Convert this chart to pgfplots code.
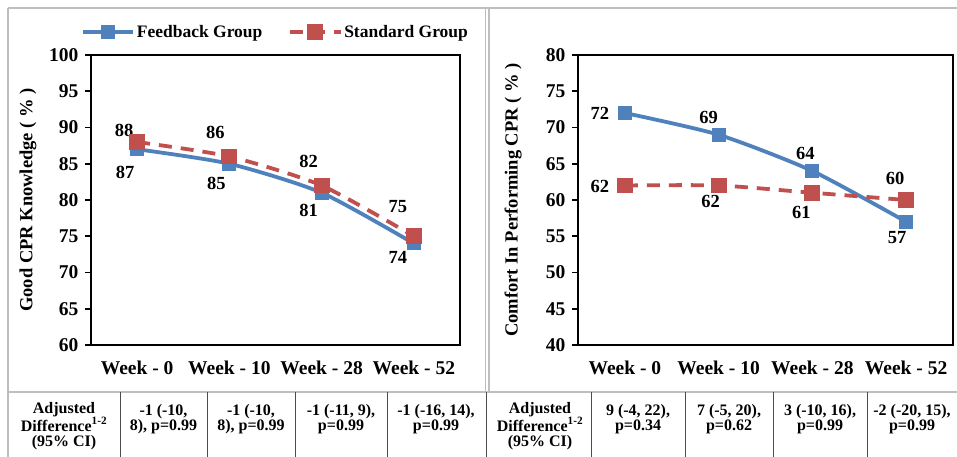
\documentclass[border=0pt]{standalone}
\usepackage{fontspec}
\setmainfont{Liberation Serif}
\usepackage{pgfplots}
\pgfplotsset{compat=1.18}
\definecolor{fbblue}{RGB}{79,129,189}
\definecolor{stred}{RGB}{192,80,77}
\definecolor{bordergray}{RGB}{190,190,190}
\newcommand{\tfont}{\fontsize{16}{15.5}\selectfont\bfseries}
\newcommand{\lfont}{\fontsize{18.5}{19}\selectfont\bfseries}
\pgfplotsset{
  cprstyle/.style={
    scale only axis,
    height=290pt,
    xmin=-0.5, xmax=3.5,
    xtick={0,1,2,3},
    xticklabels={Week - 0, Week - 10, Week - 28, Week - 52},
    /pgf/number format/assume math mode=true,
    axis line style={line width=1.6pt, black},
    tick align=outside,
    ytick pos=left,
    major tick length=6pt,
    every tick/.style={line width=1.6pt, black},
    x tick style={draw=none},
    yticklabel style={font=\fontsize{19.5}{20}\selectfont\bfseries, xshift=-3pt},
    xticklabel style={font=\fontsize{19.5}{20}\selectfont\bfseries, yshift=-6pt},
    ylabel style={font=\fontsize{18.5}{19}\selectfont\bfseries, anchor=center},
    legend image code/.code={\draw[mark repeat=2,mark phase=2,#1] plot coordinates {(0pt,0pt) (25pt,0pt) (50pt,0pt)};},
  },
  fbline/.style={color=fbblue, line width=3.8pt, smooth, tension=0.4, mark=square*, mark size=5pt, mark options={solid, fill=fbblue}},
  stline/.style={color=stred, line width=3.8pt, dash pattern=on 13pt off 9pt, smooth, tension=0.4, mark=square*, mark size=6pt, mark options={solid, fill=stred}},
}
\begin{document}
\begin{tikzpicture}
\path[use as bounding box] (0,0) rectangle (957pt,457pt);
% panel borders
\draw[bordergray, line width=1.5pt] (8pt,449pt) -- (957pt,449pt);
\draw[bordergray, line width=1.5pt] (8pt,0pt) -- (8pt,449pt);
\draw[bordergray, line width=1pt] (485pt,65pt) -- (485pt,449pt);
\draw[bordergray, line width=2pt] (489pt,65pt) -- (489pt,449pt);
\draw[bordergray, line width=1.5pt] (8pt,65pt) -- (957pt,65pt);

% Left chart
\begin{axis}[cprstyle,
  at={(91pt,112pt)}, anchor=south west,
  width=369pt,
  ymin=60, ymax=100, ytick={60,65,...,100},
  ylabel={Good CPR Knowledge ( \% )},
  ylabel style={at={(axis description cs:-0.171,0.5)}},
  legend columns=2,
  legend style={at={(0.5,1.08)}, anchor=center, draw=none, fill=none,
    font=\fontsize{17.5}{18}\selectfont\bfseries,
    /tikz/every even column/.append style={column sep=24pt}},
]
\addplot[fbline] coordinates {(0,87) (1,85) (2,81) (3,74)};
\addlegendentry{Feedback Group}
\addplot[stline] coordinates {(0,88) (1,86) (2,82) (3,75)};
\addlegendentry{Standard Group}
\node[font=\lfont] at (axis cs:0,87) [xshift=-12pt, yshift=-23pt] {87};
\node[font=\lfont] at (axis cs:1,85) [xshift=-13pt, yshift=-20pt] {85};
\node[font=\lfont] at (axis cs:2,81) [xshift=-13pt, yshift=-18pt] {81};
\node[font=\lfont] at (axis cs:3,74) [xshift=-16pt, yshift=-14pt] {74};
\node[font=\lfont] at (axis cs:0,88) [xshift=-13pt, yshift=12pt] {88};
\node[font=\lfont] at (axis cs:1,86) [xshift=-14pt, yshift=24pt] {86};
\node[font=\lfont] at (axis cs:2,82) [xshift=-13pt, yshift=24pt] {82};
\node[font=\lfont] at (axis cs:3,75) [xshift=-16pt, yshift=30pt] {75};
\end{axis}

% Right chart
\begin{axis}[cprstyle,
  at={(578pt,112pt)}, anchor=south west,
  width=375pt,
  ymin=40, ymax=80, ytick={40,45,...,80},
  ylabel={Comfort In Performing CPR ( \% )},
  ylabel style={at={(axis description cs:-0.173,0.5)}},
]
\addplot[fbline] coordinates {(0,72) (1,69) (2,64) (3,57)};
\addplot[stline] coordinates {(0,62) (1,62) (2,61) (3,60)};
\node[font=\lfont] at (axis cs:0,72) [xshift=-25pt, yshift=0pt] {72};
\node[font=\lfont] at (axis cs:1,69) [xshift=-10pt, yshift=17pt] {69};
\node[font=\lfont] at (axis cs:2,64) [xshift=-7pt, yshift=18pt] {64};
\node[font=\lfont] at (axis cs:3,57) [xshift=-9pt, yshift=-16pt] {57};
\node[font=\lfont] at (axis cs:0,62) [xshift=-25pt, yshift=-1pt] {62};
\node[font=\lfont] at (axis cs:1,62) [xshift=-8pt, yshift=-16pt] {62};
\node[font=\lfont] at (axis cs:2,61) [xshift=-11pt, yshift=-20pt] {61};
\node[font=\lfont] at (axis cs:3,60) [xshift=-11pt, yshift=22pt] {60};
\end{axis}

% Table
\foreach \x in {120,207,295,387,486,591,685,773,867}
  \draw[black!70, line width=0.8pt] (\x pt,0pt) -- (\x pt,65pt);
\foreach \cx in {64,540}
  \node[font=\tfont, align=center, inner sep=0pt] at (\cx pt,31pt) {Adjusted\\Difference\textsuperscript{1-2}\\(95\% CI)};
\node[font=\tfont, align=center, inner sep=0pt] at (163.5pt,38pt) {-1 (-10,\\8), p=0.99};
\node[font=\tfont, align=center, inner sep=0pt] at (251pt,38pt) {-1 (-10,\\8), p=0.99};
\node[font=\tfont, align=center, inner sep=0pt] at (341pt,38pt) {-1 (-11, 9),\\p=0.99};
\node[font=\tfont, align=center, inner sep=0pt] at (436pt,38pt) {-1 (-16, 14),\\p=0.99};
\node[font=\tfont, align=center, inner sep=0pt] at (638pt,38pt) {9 (-4, 22),\\p=0.34};
\node[font=\tfont, align=center, inner sep=0pt] at (729pt,38pt) {7 (-5, 20),\\p=0.62};
\node[font=\tfont, align=center, inner sep=0pt] at (820pt,38pt) {3 (-10, 16),\\p=0.99};
\node[font=\tfont, align=center, inner sep=0pt] at (912pt,38pt) {-2 (-20, 15),\\p=0.99};
\end{tikzpicture}
\end{document}
